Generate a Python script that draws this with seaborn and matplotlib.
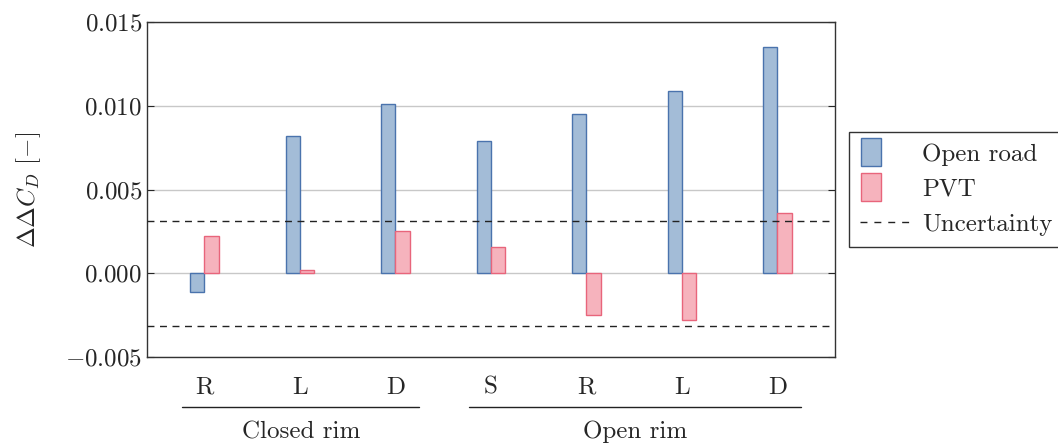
#!/usr/bin/env python3

import matplotlib
matplotlib.use('Agg')
import matplotlib.pyplot as plt     # visual plotting of data
import matplotlib.patches as mpatches
from matplotlib.legend_handler import HandlerPatch
from matplotlib.ticker import FuncFormatter
import seaborn as sns               # visual plotting of data
import pandas as pd     # handling data

# data
cases = ['R', 'L', 'D', 'S', 'R', 'L', 'D']
groups = ['Closed rim', 'Open rim']
group_sizes = [3, 4]
open_road = [-0.0011, 0.0082, 0.0101, 0.0079, 0.0095, 0.0109, 0.0135]
pvt = [0.0022, 0.0002, 0.0025, 0.0016, -0.0025, -0.0028, 0.0036]
uncertainty = 0.00315
series = ['Open road', 'PVT']

fills = ['#a3bcd7', '#f6b3bd']
edges = ['#4a73ad', '#e8657b']

sns.set_style('ticks')
plt.rcParams['font.family'] = 'serif'
plt.rcParams['font.serif'] = ['cmr10', 'DejaVu Serif']
plt.rcParams['mathtext.fontset'] = 'cm'
plt.rcParams['axes.unicode_minus'] = False
plt.rcParams['font.size'] = 18

slots = [f'{i}' for i in range(len(cases))]
df = pd.DataFrame({
    'slot': slots * 2,
    'value': open_road + pvt,
    'series': [series[0]] * len(slots) + [series[1]] * len(slots),
})

fig = plt.figure(figsize=(10.58, 4.43), dpi=100)
ax = fig.add_axes([0.139, 0.194, 0.650, 0.756])

sns.barplot(data=df, x='slot', y='value', hue='series', hue_order=series,
            order=slots, palette=fills, width=0.3, ax=ax, legend=False,
            linewidth=1, saturation=1)
n = len(slots)
for i, bar in enumerate(ax.patches[:2 * n]):
    bar.set_edgecolor(edges[i // n])

ax.axhline(uncertainty, color='#222222', ls=(0, (5, 4)), lw=1, zorder=3)
ax.axhline(-uncertainty, color='#222222', ls=(0, (5, 4)), lw=1, zorder=3)

ax.set_xlim(-0.6, n - 0.4)
ax.set_ylim(-0.005, 0.015)
ax.set_yticks([-0.005, 0.0, 0.005, 0.010, 0.015])
ax.yaxis.set_major_formatter(FuncFormatter(lambda v, p: '$%.3f$' % v))
ax.yaxis.grid(True, color='#c8c8c8', lw=1)
ax.set_axisbelow(True)
ax.tick_params(axis='y', direction='in', right=True, length=5, labelsize=18)
ax.tick_params(axis='x', length=0, pad=14, labelsize=18)
ax.set_xticks(range(n))
ax.set_xticklabels(cases)
ax.set_xlabel('')
ax.set_ylabel(r'$\Delta\Delta C_D$ [$-$]', fontsize=18, labelpad=16)
for s in ax.spines.values():
    s.set_color('#333333')
    s.set_linewidth(1)

# group labels under the tick labels
trans = ax.get_xaxis_transform()
start = 0
for name, size in zip(groups, group_sizes):
    x0, x1 = start - 0.23, start + size - 1 + 0.25
    ax.plot([x0, x1], [-0.149, -0.149], color='#222222', lw=1,
            transform=trans, clip_on=False)
    ax.text((x0 + x1) / 2, -0.224, name, transform=trans, ha='center',
            va='center', fontsize=18)
    start += size


def narrow_patch(legend, orig_handle, xdescent, ydescent, width, height, fontsize):
    return mpatches.Rectangle((-xdescent + 1, -ydescent - 0.3 * height), 14,
                              1.6 * height)


handles = [mpatches.Patch(facecolor=fills[i], edgecolor=edges[i], lw=1)
           for i in range(2)]
handles.append(plt.Line2D([], [], color='#222222', ls=(0, (5, 5)), lw=1))
leg = ax.legend(handles, series + ['Uncertainty'], loc='center left',
                bbox_to_anchor=(1.02, 0.5), frameon=True, fancybox=False,
                edgecolor='black', fontsize=18, handlelength=2.2,
                handletextpad=0.3, borderpad=0.45, labelspacing=0.5,
                borderaxespad=0,
                handler_map={mpatches.Patch: HandlerPatch(patch_func=narrow_patch)})
leg.get_frame().set_linewidth(1)

plt.savefig('out.png', dpi=100)
